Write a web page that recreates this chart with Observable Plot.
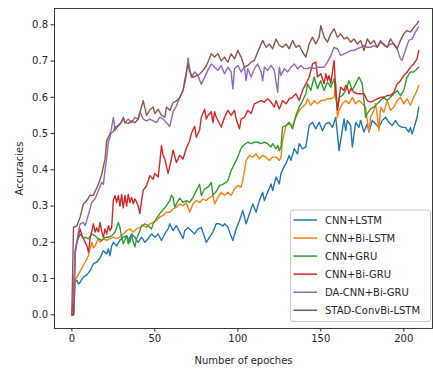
<!DOCTYPE html>
<html><head><meta charset="utf-8">
<script src="https://cdn.jsdelivr.net/npm/d3@7"></script>
<script src="https://cdn.jsdelivr.net/npm/@observablehq/plot@0.6"></script>
<style>body{margin:0;background:#fff;} #chart{position:relative;width:433px;height:369px;overflow:hidden}</style>
</head><body><div id="chart"></div>
<script>
const seriesNames = ["CNN+LSTM","CNN+Bi-LSTM","CNN+GRU","CNN+Bi-GRU","DA-CNN+Bi-GRU","STAD-ConvBi-LSTM"];
const seriesColors = ["#1f77b4","#ff7f0e","#2ca02c","#d62728","#9467bd","#8c564b"];
const xTicks = [0,50,100,150,200];
const yTicks = [0,0.1,0.2,0.3,0.4,0.5,0.6,0.7,0.8];

const cnnLstm = [[0,0],[1,0],[2,0.09],[3,0.095],[4,0.085],[5,0.09],[7,0.104],[9,0.11],[11,0.122],[13,0.141],[15,0.145],[17,0.157],[19,0.177],[21,0.168],[22,0.182],[23,0.163],[24,0.19],[25,0.2],[27,0.19],[29,0.206],[31,0.214],[33,0.218],[35,0.2],[36,0.223],[38,0.214],[40,0.2],[42,0.214],[44,0.2],[46,0.21],[48,0.223],[50,0.214],[52,0.223],[54,0.205],[56,0.223],[58,0.237],[59,0.251],[61,0.232],[63,0.246],[65,0.228],[67,0.21],[68,0.232],[70,0.241],[72,0.232],[74,0.223],[76,0.237],[78,0.241],[80,0.214],[81,0.2],[83,0.214],[85,0.228],[87,0.251],[89,0.251],[91,0.245],[92,0.251],[94,0.242],[95,0.228],[97,0.205],[99,0.237],[101,0.26],[103,0.288],[105,0.251],[107,0.279],[109,0.306],[111,0.283],[113,0.315],[115,0.338],[116,0.315],[118,0.338],[120,0.361],[121,0.343],[123,0.38],[125,0.361],[126,0.39],[128,0.41],[129,0.417],[131,0.44],[132,0.426],[134,0.458],[136,0.444],[137,0.472],[139,0.458],[141,0.463],[143,0.522],[145,0.531],[147,0.513],[149,0.531],[151,0.508],[153,0.527],[155,0.531],[157,0.517],[159,0.545],[160,0.5],[161,0.453],[162,0.481],[164,0.54],[165,0.508],[166,0.536],[168,0.522],[169,0.463],[171,0.531],[173,0.517],[174,0.536],[176,0.504],[178,0.527],[179,0.504],[181,0.536],[183,0.527],[185,0.517],[187,0.536],[189,0.545],[191,0.531],[193,0.522],[195,0.536],[197,0.522],[199,0.517],[201,0.517],[203,0.504],[204,0.517],[205,0.499],[206,0.513],[208,0.545],[209,0.573]];

const cnnBiLstm = [[0,0],[1,0],[2,0.095],[5,0.12],[8,0.145],[10,0.163],[11,0.182],[12,0.2],[13,0.185],[14,0.19],[15,0.2],[16,0.21],[17,0.2],[19,0.21],[21,0.205],[23,0.21],[25,0.214],[27,0.21],[29,0.214],[31,0.223],[33,0.232],[35,0.237],[37,0.228],[39,0.237],[41,0.241],[43,0.246],[45,0.241],[47,0.251],[49,0.255],[51,0.26],[53,0.27],[55,0.274],[57,0.283],[59,0.283],[61,0.292],[63,0.297],[65,0.306],[67,0.301],[69,0.31],[71,0.283],[73,0.306],[75,0.315],[77,0.31],[79,0.319],[81,0.315],[83,0.324],[85,0.329],[86,0.306],[88,0.324],[90,0.338],[92,0.329],[94,0.338],[96,0.329],[98,0.348],[100,0.357],[102,0.352],[103,0.371],[104,0.398],[105,0.426],[107,0.44],[109,0.435],[111,0.444],[113,0.43],[115,0.44],[117,0.435],[119,0.426],[121,0.435],[123,0.435],[125,0.426],[126,0.435],[127,0.481],[129,0.522],[131,0.527],[133,0.522],[135,0.545],[137,0.564],[139,0.573],[141,0.582],[142,0.596],[144,0.578],[146,0.591],[148,0.582],[150,0.591],[152,0.591],[154,0.596],[156,0.596],[158,0.6],[159,0.642],[160,0.545],[161,0.564],[163,0.582],[165,0.591],[167,0.582],[169,0.6],[171,0.582],[173,0.591],[175,0.582],[177,0.573],[178,0.536],[179,0.504],[180,0.545],[182,0.564],[183,0.582],[184,0.55],[185,0.508],[186,0.573],[188,0.559],[190,0.591],[192,0.564],[194,0.573],[196,0.591],[198,0.6],[200,0.582],[202,0.596],[204,0.578],[206,0.6],[208,0.619],[209,0.633]];

const cnnGru = [[0,0],[1,0],[2,0.17],[3,0.2],[5,0.223],[7,0.21],[8,0.214],[10,0.21],[12,0.223],[14,0.218],[16,0.21],[18,0.205],[20,0.214],[22,0.214],[24,0.218],[26,0.228],[28,0.255],[29,0.241],[30,0.214],[31,0.196],[33,0.218],[34,0.196],[35,0.214],[36,0.223],[37,0.2],[38,0.187],[39,0.21],[41,0.232],[42,0.246],[44,0.251],[46,0.246],[48,0.237],[49,0.251],[51,0.265],[53,0.279],[55,0.29],[57,0.301],[59,0.315],[60,0.33],[61,0.324],[62,0.297],[63,0.306],[65,0.322],[67,0.31],[69,0.315],[71,0.31],[73,0.324],[75,0.343],[77,0.36],[78,0.329],[80,0.347],[82,0.352],[84,0.365],[85,0.33],[87,0.34],[89,0.357],[91,0.36],[93,0.366],[94,0.37],[96,0.398],[98,0.417],[100,0.435],[102,0.46],[104,0.47],[106,0.476],[108,0.472],[110,0.476],[112,0.476],[114,0.472],[116,0.476],[118,0.472],[120,0.463],[121,0.472],[123,0.458],[124,0.467],[125,0.453],[126,0.463],[127,0.518],[129,0.522],[131,0.531],[133,0.513],[135,0.55],[137,0.573],[139,0.591],[141,0.61],[142,0.637],[144,0.619],[146,0.656],[148,0.624],[150,0.646],[152,0.619],[154,0.642],[156,0.628],[158,0.651],[160,0.564],[161,0.6],[163,0.605],[165,0.619],[167,0.646],[169,0.619],[171,0.637],[173,0.656],[175,0.637],[176,0.591],[177,0.545],[178,0.555],[180,0.568],[182,0.573],[184,0.582],[186,0.591],[188,0.6],[190,0.591],[192,0.6],[194,0.61],[196,0.619],[198,0.605],[200,0.619],[202,0.656],[204,0.67],[206,0.67],[208,0.679],[209,0.683]];

const cnnBiGru = [[0,0],[1,0],[2,0.17],[3,0.2],[5,0.237],[6,0.22],[7,0.21],[9,0.191],[10,0.173],[11,0.21],[13,0.251],[14,0.228],[15,0.24],[16,0.228],[17,0.255],[18,0.23],[19,0.214],[20,0.237],[21,0.223],[22,0.246],[23,0.232],[24,0.241],[25,0.315],[26,0.329],[27,0.31],[28,0.329],[29,0.3],[30,0.332],[31,0.295],[32,0.329],[33,0.3],[34,0.332],[35,0.31],[36,0.324],[37,0.306],[38,0.32],[40,0.3],[41,0.279],[42,0.315],[43,0.343],[45,0.356],[47,0.384],[49,0.374],[50,0.39],[52,0.38],[53,0.42],[54,0.467],[55,0.44],[56,0.43],[58,0.39],[60,0.43],[61,0.455],[63,0.42],[65,0.44],[67,0.43],[69,0.46],[71,0.48],[72,0.5],[74,0.52],[75,0.49],[77,0.51],[78,0.545],[80,0.567],[81,0.54],[82,0.55],[84,0.56],[85,0.53],[86,0.56],[87,0.545],[89,0.527],[90,0.518],[92,0.545],[94,0.564],[96,0.55],[98,0.564],[99,0.54],[101,0.513],[102,0.54],[104,0.545],[106,0.564],[108,0.555],[110,0.582],[112,0.587],[114,0.591],[116,0.587],[118,0.596],[120,0.587],[122,0.573],[123,0.591],[125,0.568],[127,0.591],[129,0.582],[131,0.596],[133,0.6],[135,0.61],[137,0.591],[139,0.619],[141,0.637],[143,0.656],[145,0.692],[147,0.697],[148,0.656],[150,0.665],[152,0.637],[153,0.665],[154,0.646],[155,0.66],[156,0.637],[158,0.702],[159,0.62],[160,0.564],[162,0.628],[164,0.619],[165,0.633],[166,0.628],[167,0.61],[168,0.624],[170,0.614],[172,0.61],[174,0.61],[176,0.61],[178,0.591],[180,0.587],[182,0.591],[184,0.596],[186,0.6],[188,0.6],[190,0.605],[192,0.605],[194,0.614],[196,0.637],[198,0.646],[200,0.66],[202,0.669],[204,0.683],[206,0.692],[208,0.706],[209,0.729]];

const daCnnBiGru = [[0,0],[1,0.05],[2,0.18],[3,0.2],[4,0.23],[5,0.251],[7,0.255],[8,0.246],[9,0.26],[11,0.293],[12,0.31],[14,0.32],[16,0.343],[18,0.365],[19,0.36],[20,0.4],[21,0.43],[22,0.477],[23,0.49],[25,0.545],[26,0.51],[28,0.52],[30,0.532],[31,0.546],[32,0.53],[34,0.54],[36,0.53],[38,0.545],[40,0.54],[41,0.56],[43,0.54],[45,0.535],[47,0.54],[49,0.535],[51,0.53],[53,0.545],[55,0.54],[57,0.53],[59,0.52],[61,0.56],[63,0.576],[65,0.6],[67,0.618],[69,0.66],[70,0.709],[71,0.68],[72,0.655],[74,0.67],[76,0.66],[78,0.636],[80,0.655],[82,0.675],[84,0.692],[86,0.683],[88,0.674],[90,0.688],[92,0.665],[94,0.683],[96,0.67],[97,0.623],[98,0.679],[100,0.688],[102,0.67],[104,0.683],[105,0.646],[106,0.679],[108,0.656],[110,0.679],[112,0.692],[114,0.67],[115,0.646],[116,0.683],[118,0.674],[120,0.688],[122,0.674],[124,0.614],[125,0.683],[126,0.66],[128,0.679],[130,0.67],[132,0.683],[134,0.692],[136,0.679],[138,0.688],[140,0.679],[142,0.679],[144,0.683],[146,0.679],[148,0.683],[150,0.683],[152,0.683],[154,0.697],[156,0.715],[158,0.738],[160,0.734],[162,0.715],[164,0.72],[166,0.724],[168,0.729],[170,0.729],[172,0.734],[174,0.738],[176,0.743],[178,0.738],[180,0.738],[182,0.743],[184,0.738],[186,0.757],[188,0.743],[190,0.738],[192,0.747],[194,0.747],[196,0.734],[198,0.706],[199,0.702],[201,0.729],[203,0.757],[205,0.761],[207,0.78],[209,0.795]];

const stadConvBiLstm = [[0,0],[1,0.242],[3,0.245],[5,0.27],[7,0.306],[9,0.315],[11,0.33],[13,0.33],[14,0.34],[16,0.36],[18,0.387],[20,0.43],[21,0.48],[23,0.5],[25,0.505],[26,0.517],[28,0.523],[29,0.527],[31,0.541],[32,0.53],[34,0.528],[36,0.535],[38,0.53],[40,0.54],[42,0.574],[43,0.591],[45,0.55],[47,0.565],[49,0.573],[50,0.555],[52,0.567],[54,0.55],[56,0.545],[57,0.573],[59,0.564],[61,0.585],[63,0.59],[65,0.599],[67,0.62],[68,0.646],[70,0.692],[71,0.67],[73,0.655],[75,0.66],[77,0.664],[79,0.674],[81,0.687],[82,0.697],[84,0.72],[86,0.711],[88,0.72],[90,0.7],[92,0.711],[94,0.697],[96,0.72],[98,0.706],[100,0.729],[102,0.711],[104,0.683],[106,0.688],[108,0.697],[110,0.702],[112,0.725],[115,0.757],[117,0.738],[119,0.747],[121,0.734],[123,0.761],[125,0.743],[127,0.738],[129,0.747],[131,0.734],[133,0.757],[135,0.738],[137,0.743],[139,0.725],[141,0.711],[143,0.747],[145,0.766],[147,0.747],[149,0.766],[150,0.798],[152,0.766],[154,0.752],[156,0.775],[158,0.789],[160,0.766],[162,0.775],[164,0.761],[166,0.766],[168,0.752],[170,0.761],[172,0.747],[174,0.757],[176,0.729],[178,0.761],[180,0.747],[182,0.757],[184,0.738],[186,0.752],[188,0.747],[190,0.738],[192,0.761],[194,0.747],[196,0.734],[198,0.757],[200,0.775],[202,0.784],[204,0.78],[206,0.793],[208,0.803],[209,0.81]];

const allSeries = [cnnLstm, cnnBiLstm, cnnGru, cnnBiGru, daCnnBiGru, stadConvBiLstm];
const rows = [];
allSeries.forEach((s, i) => s.forEach(([e, a]) => rows.push({series: seriesNames[i], epoch: e, acc: a})));

const W = 433, H = 369, mL = 54, mR = 1, mT = 8, mB = 41;
const plot = Plot.plot({
  width: W, height: H, marginLeft: mL, marginRight: mR, marginTop: mT, marginBottom: mB,
  style: {fontFamily: "'DejaVu Sans', sans-serif", fontSize: "10px", color: "#262626", background: "#fff"},
  x: {domain: [-10.45, 217.3]},
  y: {domain: [-0.0378, 0.845]},
  color: {domain: seriesNames, range: seriesColors},
  marks: [
    Plot.line(rows, {x: "epoch", y: "acc", z: "series", stroke: "series", strokeWidth: 1.4, strokeLinejoin: "round"}),
    Plot.frame({stroke: "#262626", strokeWidth: 0.9}),
    Plot.axisX({ticks: xTicks, tickSize: 3.5, tickPadding: 3, label: "Number of epoches", labelAnchor: "center", labelArrow: "none", labelOffset: 35}),
    Plot.axisY({ticks: yTicks, tickFormat: d3.format(".1f"), tickSize: 3.5, tickPadding: 3, label: "Accuracies", labelAnchor: "center", labelArrow: "none", labelOffset: 39})
  ]
});
document.getElementById("chart").appendChild(plot);

// legend inside the plot (lower right), drawn into the SVG
const svg = d3.select(plot);
const lg = svg.append("g").attr("font-family", "'DejaVu Sans', sans-serif").attr("font-size", 10).attr("text-anchor", "start");
const lx = 290.5, ly = 210, lw = 140, lh = 111.5;
lg.append("rect").attr("x", lx).attr("y", ly).attr("width", lw).attr("height", lh)
  .attr("rx", 2.5).attr("fill", "#ffffff").attr("fill-opacity", 0.8).attr("stroke", "#cccccc").attr("stroke-width", 1);
seriesNames.forEach((n, i) => {
  const cy = 220 + i * 18.05;
  lg.append("line").attr("x1", 293.5).attr("x2", 317).attr("y1", cy).attr("y2", cy)
    .attr("stroke", seriesColors[i]).attr("stroke-width", 1.5);
  lg.append("text").attr("x", 325).attr("y", cy).attr("dy", "0.35em").attr("text-anchor", "start").attr("fill", "#262626").text(n);
});
</script></body></html>
